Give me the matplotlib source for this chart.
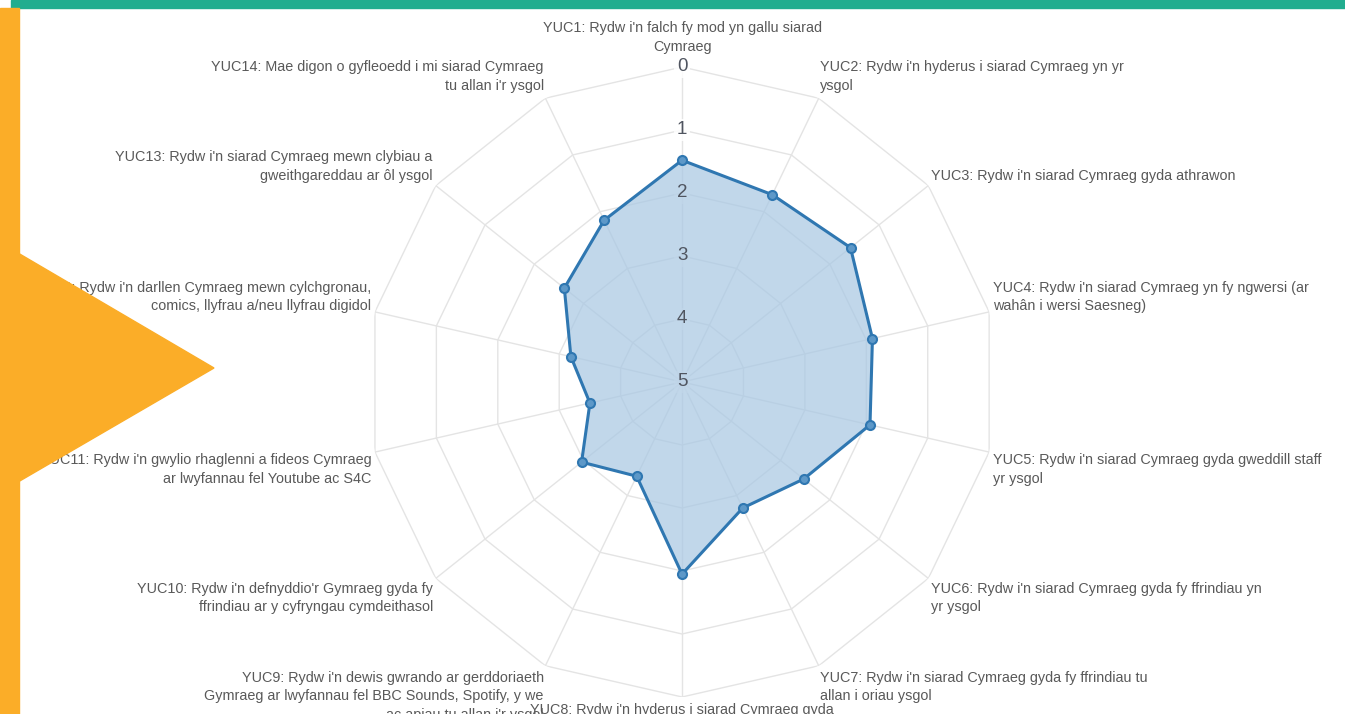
import numpy as np
import matplotlib
matplotlib.use('Agg')
import matplotlib.pyplot as plt
from matplotlib.patches import Rectangle, Polygon

plt.rcParams['font.family'] = ['Liberation Sans', 'DejaVu Sans']

# data
labels = [
    "YUC1: Rydw i'n falch fy mod yn gallu siarad\nCymraeg",
    "YUC2: Rydw i'n hyderus i siarad Cymraeg yn yr\nysgol",
    "YUC3: Rydw i'n siarad Cymraeg gyda athrawon",
    "YUC4: Rydw i'n siarad Cymraeg yn fy ngwersi (ar\nwahân i wersi Saesneg)",
    "YUC5: Rydw i'n siarad Cymraeg gyda gweddill staff\nyr ysgol",
    "YUC6: Rydw i'n siarad Cymraeg gyda fy ffrindiau yn\nyr ysgol",
    "YUC7: Rydw i'n siarad Cymraeg gyda fy ffrindiau tu\nallan i oriau ysgol",
    "YUC8: Rydw i'n hyderus i siarad Cymraeg gyda",
    "YUC9: Rydw i'n dewis gwrando ar gerddoriaeth\nGymraeg ar lwyfannau fel BBC Sounds, Spotify, y we\nac apiau tu allan i'r ysgol",
    "YUC10: Rydw i'n defnyddio'r Gymraeg gyda fy\nffrindiau ar y cyfryngau cymdeithasol",
    "YUC11: Rydw i'n gwylio rhaglenni a fideos Cymraeg\nar lwyfannau fel Youtube ac S4C",
    "YUC12: Rydw i'n darllen Cymraeg mewn cylchgronau,\ncomics, llyfrau a/neu llyfrau digidol",
    "YUC13: Rydw i'n siarad Cymraeg mewn clybiau a\ngweithgareddau ar ôl ysgol",
    "YUC14: Mae digon o gyfleoedd i mi siarad Cymraeg\ntu allan i'r ysgol",
]
values = [1.48, 1.70, 1.58, 1.90, 1.94, 2.53, 2.78, 1.95, 3.34, 2.96, 3.50, 3.19, 2.61, 2.15]
levels = [0, 1, 2, 3, 4, 5]

n = len(labels)
angles = np.arange(n) * 2 * np.pi / n
ang_c = np.append(angles, angles[0])
vals_c = np.append(values, values[0])

fig = plt.figure(figsize=(13.45, 7.14), dpi=100)
fig.patch.set_facecolor('white')
ax = fig.add_axes([0.2729, 0.0238, 0.4684, 0.8824], projection='polar')
ax.set_theta_zero_location('N')
ax.set_theta_direction(-1)
ax.set_ylim(5, 0)
ax.grid(False)
ax.set_xticks([])
ax.set_yticks([])
ax.spines['polar'].set_visible(False)
ax.patch.set_alpha(0)

grid_col = '#e4e4e4'
# spokes
for a in angles:
    ax.plot([a, a], [levels[-1], levels[0]], color=grid_col, lw=1, zorder=1)
# polygon rings
for lv in levels[:-1]:
    ax.plot(ang_c, [lv] * len(ang_c), color=grid_col, lw=1, zorder=1)

# data
ax.fill(ang_c, vals_c, color='#a9c8e3', alpha=0.72, zorder=2)
ax.plot(ang_c, vals_c, color='#2f77b1', lw=2.2, zorder=3)
ax.plot(angles, values, 'o', ms=6.5, mfc='#5d98c8', mec='#2f77b1', mew=1.5, zorder=4)

# tick labels
for lv in levels:
    inside = lv > values[0]
    ax.text(0, lv, str(lv), ha='center', va='center', fontsize=13.5, color='#505560',
            bbox=dict(boxstyle='square,pad=0.15', fc='#c2d7ea' if inside else 'white',
                      ec='none', alpha=0.6 if inside else 0.85), zorder=3.5)

# category labels
pad = 9
for a, lab in zip(angles, labels):
    s, c = np.sin(a), np.cos(a)
    if abs(s) < 1e-6:
        ha = 'center'
    elif s > 0:
        ha = 'left'
    else:
        ha = 'right'
    if c > 1e-6:
        va = 'bottom'
        dy = pad * c * 0.8 - 2.5
        if abs(s) < 1e-6:
            dy += 5
    else:
        va = 'top'
        dy = pad * c * 0.8 + 3 * abs(c)
    ax.annotate(lab, xy=(a, 0), xytext=(pad * 0.3 * s, dy),
                textcoords='offset points', ha=ha, va=va, fontsize=10.4,
                color='#595959', multialignment=ha if ha != 'center' else 'center',
                annotation_clip=False, linespacing=1.4, zorder=5)

# page decoration
fig.patches.append(Rectangle((11 / 1345, 1 - 8 / 714), 1, 8 / 714, transform=fig.transFigure,
                             color='#21ad8f', zorder=10))
fig.patches.append(Rectangle((0, 0), 19 / 1345, 1 - 8 / 714, transform=fig.transFigure,
                             color='#fbad28', zorder=10))
fig.patches.append(Polygon([(18 / 1345, 1 - 253 / 714), (214 / 1345, 1 - 368 / 714),
                            (18 / 1345, 1 - 482 / 714)], closed=True,
                           transform=fig.transFigure, color='#fbad28', zorder=10))

fig.savefig('out.png', dpi=100)
